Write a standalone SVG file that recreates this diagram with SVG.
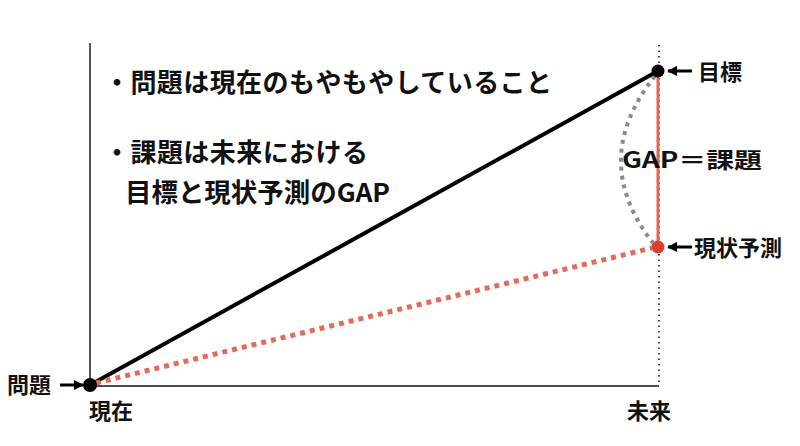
<svg xmlns="http://www.w3.org/2000/svg" width="800" height="446" viewBox="0 0 800 446">
<defs>
<marker id="ah" viewBox="0 0 10 10" refX="9" refY="5" markerWidth="3.5" markerHeight="3.5" orient="auto"><path d="M0,0 L10,5 L0,10 z" fill="#000"/></marker>
<style>
text{font-family:"Noto Sans CJK JP","Noto Sans",sans-serif;font-weight:bold;fill:#111;}
.t{font-size:26px;}
.l{font-size:22px;}
.arr{stroke:#000;stroke-width:3;fill:none;marker-end:url(#ah);}
</style>
</defs>
<rect width="800" height="446" fill="#fff"/>
<g id="axes">
<line x1="90" y1="43" x2="90" y2="386" stroke="#555" stroke-width="2"/>
<line x1="90" y1="386" x2="659" y2="386" stroke="#111" stroke-width="1.5"/>
<line x1="659" y1="45" x2="659" y2="386" stroke="#111" stroke-width="1.5" stroke-dasharray="1.5 4"/>
</g>
<g id="connectors">
<line x1="90" y1="385" x2="658" y2="71" stroke="#000" stroke-width="4"/>
<line x1="96" y1="383" x2="652" y2="248" stroke="#e26c58" stroke-width="5" stroke-dasharray="5 5"/>
<line x1="658" y1="71" x2="658" y2="247" stroke="#e4644f" stroke-width="3"/>
<path d="M655,76 Q588,160 653,243" stroke="#8a8a8a" stroke-width="4" fill="none" stroke-dasharray="4 5"/>
<line x1="692" y1="71" x2="668" y2="71" class="arr"/>
<line x1="692" y1="247" x2="668" y2="247" class="arr"/>
<line x1="60" y1="385" x2="83" y2="385" class="arr"/>
</g>
<g id="node-goal"><circle cx="658" cy="71" r="6.5" fill="#000"/><text class="l" x="698" y="80">目標</text></g>
<g id="node-forecast"><circle cx="658" cy="247" r="6.5" fill="#d9412e"/><text class="l" x="694" y="256">現状予測</text></g>
<g id="node-problem"><circle cx="90" cy="385" r="7" fill="#000"/><text class="l" x="7" y="393">問題</text><text class="l" x="89" y="419">現在</text></g>
<g id="node-future"><text class="l" x="627" y="419">未来</text></g>
<g id="gap"><text class="l" x="622" y="168" textLength="140" lengthAdjust="spacingAndGlyphs">GAP＝課題</text></g>
<g id="notes">
<text class="t" x="104" y="92" textLength="448">・問題は現在のもやもやしていること</text>
<text class="t" x="104" y="162" textLength="264">・課題は未来における</text>
<text class="t" x="125" y="202" textLength="265" lengthAdjust="spacingAndGlyphs">目標と現状予測のGAP</text>
</g>
</svg>
